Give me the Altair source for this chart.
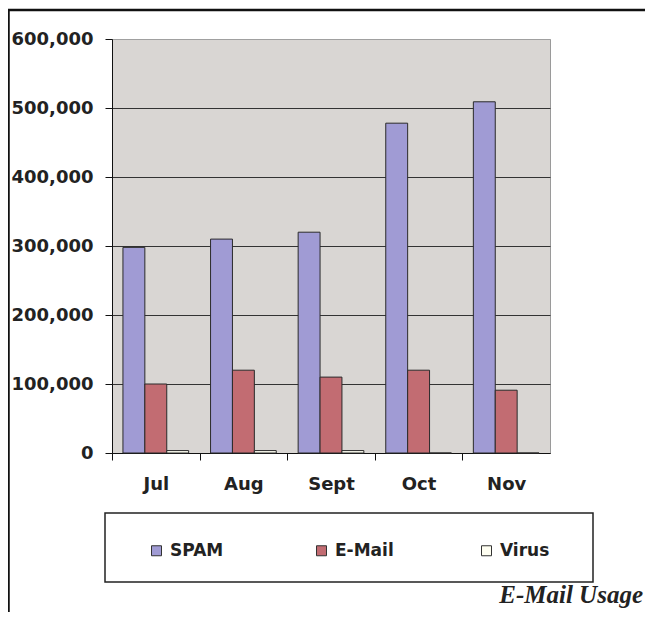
import altair as alt
import pandas as pd

months = ["Jul", "Aug", "Sept", "Oct", "Nov"]
series = ["SPAM", "E-Mail", "Virus"]
spam = [298000, 310000, 320000, 478000, 509000]
email = [100000, 120000, 110000, 120000, 91000]
virus = [3500, 3500, 3500, 0, 0]
colors = ["#A09BD4", "#C26C72", "#FFFFF2"]
y_ticks = [0, 100000, 200000, 300000, 400000, 500000, 600000]
caption = "E-Mail Usage"

rows = []
for s, vals in zip(series, [spam, email, virus]):
    for m, v in zip(months, vals):
        rows.append({"Month": m, "Series": s, "Value": v})
df = pd.DataFrame(rows)
one = pd.DataFrame({"k": [0]})

W, H = 438, 414
step = W / 5.0
edge = step * 0.125

bars = alt.Chart(df).mark_bar(stroke="#2a2a2a", strokeWidth=1).encode(
    x=alt.X("Month:N", sort=months, title=None,
            scale=alt.Scale(paddingInner=0.25, paddingOuter=0.125),
            axis=alt.Axis(bandPosition=0, tickOffset=-edge, labelOffset=edge,
                          labelAngle=0,
                          tickSize=7, tickColor="#111", domainColor="#111",
                          labelPadding=15, labelFont="DejaVu Sans",
                          labelFontWeight="bold", labelFontSize=18,
                          labelColor="#222")),
    xOffset=alt.XOffset("Series:N", sort=series,
                        scale=alt.Scale(paddingInner=0, paddingOuter=0)),
    y=alt.Y("Value:Q", title=None,
            scale=alt.Scale(domain=[0, 600000], nice=False),
            axis=alt.Axis(values=y_ticks, format=",d", tickSize=7,
                          tickColor="#111", domainColor="#111",
                          labelPadding=12, labelFont="DejaVu Sans",
                          labelFontWeight="bold", labelFontSize=18,
                          labelColor="#222", grid=True,
                          gridColor=alt.condition("datum.value === 600000",
                                                  alt.value("#a0a0a0"),
                                                  alt.value("#333333")),
                          gridWidth=1)),
    color=alt.Color("Series:N", sort=series,
                    scale=alt.Scale(domain=series, range=colors),
                    legend=alt.Legend(title=None, orient="none",
                                      legendX=36, legendY=503,
                                      direction="horizontal",
                                      gridAlign="all", columnPadding=84,
                                      symbolType="square", symbolSize=100,
                                      symbolStrokeColor="#333",
                                      symbolStrokeWidth=1, labelOffset=5,
                                      labelFont="DejaVu Sans",
                                      labelFontWeight="bold",
                                      labelFontSize=17, labelColor="#222")),
)

border = alt.Chart(one).mark_rect(fill="transparent", stroke="#111",
                                  strokeWidth=2.5).encode(
    x=alt.value(-103.5), x2=alt.value(600), y=alt.value(-29), y2=alt.value(640))

legend_box = alt.Chart(one).mark_rect(fill="transparent", stroke="#222",
                                      strokeWidth=1.5).encode(
    x=alt.value(-7), x2=alt.value(481), y=alt.value(474), y2=alt.value(543))

cap = alt.Chart(one).mark_text(text=caption, font="Liberation Serif",
                               fontStyle="italic", fontWeight="bold",
                               fontSize=25, align="right",
                               baseline="alphabetic", color="#222").encode(
    x=alt.value(531), y=alt.value(564))

chart = alt.layer(border, bars, legend_box, cap).properties(
    width=W, height=H,
    autosize=alt.AutoSizeParams(type="none"),
    padding={"left": 104, "top": 31, "right": 95, "bottom": 159},
).configure_view(fill="#D9D6D3", stroke="#9a9a9a")

chart.save("out.html", embed_options={"renderer": "svg", "actions": False})
